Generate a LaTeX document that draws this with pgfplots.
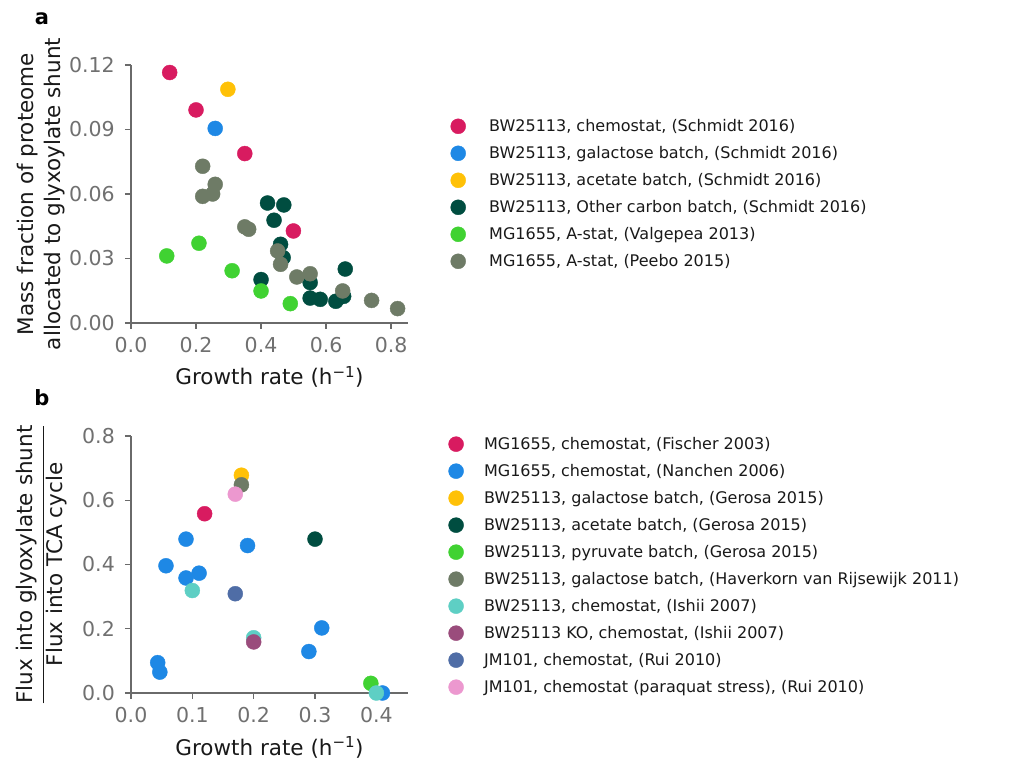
\documentclass[border=0pt]{standalone}
\usepackage{fontspec}
\setmainfont{DejaVu Sans}
\usepackage{pgfplots}
\pgfplotsset{compat=1.18}
\definecolor{cpink}{HTML}{D81B60}
\definecolor{cblue}{HTML}{1E88E5}
\definecolor{cyellow}{HTML}{FFC107}
\definecolor{cdgreen}{HTML}{004D40}
\definecolor{clgreen}{HTML}{40D232}
\definecolor{cgray}{HTML}{6E7B66}
\definecolor{cteal}{HTML}{5ECFC4}
\definecolor{cpurple}{HTML}{9A4C7C}
\definecolor{cslate}{HTML}{4F6DA6}
\definecolor{clpink}{HTML}{EC98CF}
\definecolor{axgray}{HTML}{6A6A6A}
\definecolor{tkgray}{HTML}{707070}
\pgfplotsset{
  dot/.style={only marks, mark=*, mark size=7.5pt, color=#1, mark options={draw=none, fill=#1}},
  panel/.style={
    scale only axis, width=277pt,
    axis x line*=bottom, axis y line*=left,
    axis line style={color=axgray, line width=1.2pt},
    tick align=outside, major tick length=6pt,
    tick style={color=axgray, line width=1.2pt},
    ticklabel style={font=\fontsize{20.5}{20.5}\selectfont, text=tkgray},
    xticklabel style={inner sep=8.5pt},
    yticklabel style={inner sep=10pt},
    /pgf/number format/assume math mode=true,
    xlabel style={font=\fontsize{21.5}{26}\selectfont, text=black!90, at={(axis description cs:0.5,0)}, anchor=base, yshift=-62pt},
    ylabel style={font=\fontsize{21.5}{27}\selectfont, text=black!90, align=center, anchor=center},
    legend cell align=left,
  },
}
\begin{document}
\begin{tikzpicture}
\path[use as bounding box] (0pt,0pt) rectangle (1035pt,762pt);
\node[font=\bfseries\fontsize{21}{21}\selectfont] at (42pt,743pt) {a};
\node[font=\bfseries\fontsize{21}{21}\selectfont] at (42pt,364pt) {b};
% ---------------- panel a
\begin{axis}[panel, at={(131pt,439pt)}, anchor=south west, height=258pt,
  xmin=0, xmax=0.852, ymin=0, ymax=0.12,
  xtick={0,0.2,0.4,0.6,0.8}, ytick={0,0.03,0.06,0.09,0.12},
  xticklabel style={/pgf/number format/.cd, fixed, fixed zerofill, precision=1},
  yticklabel style={/pgf/number format/.cd, fixed, fixed zerofill, precision=2},
  scaled y ticks=false,
  xlabel={Growth rate (h\textsuperscript{−1})},
  ylabel={Mass fraction of proteome\\allocated to glyxoylate shunt},
  ylabel style={at={(axis description cs:-0.323,0.5)}},
  legend style={draw=none, fill=none, at={(axis description cs:1.1426,0.80)}, anchor=north west,
    font=\fontsize{16}{16}\selectfont, text=black!90, row sep=12pt,
    nodes={inner sep=0pt}, column sep=23.5pt},
]
\addplot[dot=cpink] coordinates {(0.119,0.1165) (0.200,0.0991) (0.350,0.0788) (0.4995,0.0428)};
\addlegendentry{BW25113, chemostat, (Schmidt 2016)}
\addplot[dot=cblue] coordinates {(0.259,0.0905)};
\addlegendentry{BW25113, galactose batch, (Schmidt 2016)}
\addplot[dot=cyellow] coordinates {(0.298,0.1087)};
\addlegendentry{BW25113, acetate batch, (Schmidt 2016)}
\addplot[dot=cdgreen] coordinates {(0.420,0.0558) (0.470,0.0549) (0.440,0.0478) (0.460,0.0366) (0.468,0.0304) (0.400,0.0202) (0.551,0.0188) (0.551,0.0116) (0.582,0.0110) (0.630,0.0101) (0.654,0.0124) (0.659,0.0251)};
\addlegendentry{BW25113, Other carbon batch, (Schmidt 2016)}
\addplot[dot=clgreen] coordinates {(0.110,0.0312) (0.209,0.0371) (0.311,0.0243) (0.400,0.0149) (0.490,0.0090)};
\addlegendentry{MG1655, A-stat, (Valgepea 2013)}
\addplot[dot=cgray] coordinates {(0.2205,0.0729) (0.2205,0.0589) (0.251,0.0600) (0.259,0.0645) (0.350,0.0447) (0.362,0.0436) (0.451,0.0335) (0.460,0.0273) (0.510,0.0214) (0.551,0.0229) (0.651,0.0149) (0.740,0.0105) (0.820,0.0067)};
\addlegendentry{MG1655, A-stat, (Peebo 2015)}
\end{axis}
% ---------------- panel b
\begin{axis}[panel, at={(131pt,69pt)}, anchor=south west, height=257pt,
  xmin=0, xmax=0.4516, ymin=0, ymax=0.8,
  xtick={0,0.1,0.2,0.3,0.4}, ytick={0,0.2,0.4,0.6,0.8},
  xticklabel style={/pgf/number format/.cd, fixed, fixed zerofill, precision=1},
  yticklabel style={/pgf/number format/.cd, fixed, fixed zerofill, precision=1},
  xlabel={Growth rate (h\textsuperscript{−1})},
  ylabel={\begin{tabular}{@{}c@{}}Flux into glyoxylate shunt\\[2pt]\hline Flux into TCA cycle\end{tabular}},
  ylabel style={at={(axis description cs:-0.321,0.5)}},
  legend style={draw=none, fill=none, at={(axis description cs:1.135,1.006)}, anchor=north west,
    font=\fontsize{16}{16}\selectfont, text=black!90, row sep=12pt,
    nodes={inner sep=0pt}, column sep=20.5pt},
]
\addplot[dot=cpink] coordinates {(0.120,0.558)};
\addlegendentry{MG1655, chemostat, (Fischer 2003)}
\addplot[dot=cblue] coordinates {(0.0435,0.0945) (0.047,0.065) (0.057,0.396) (0.0897,0.479) (0.0897,0.358) (0.111,0.373) (0.190,0.459) (0.290,0.129) (0.311,0.2026) (0.410,0.0)};
\addlegendentry{MG1655, chemostat, (Nanchen 2006)}
\addplot[dot=cyellow] coordinates {(0.180,0.678)};
\addlegendentry{BW25113, galactose batch, (Gerosa 2015)}
\addplot[dot=cdgreen] coordinates {(0.300,0.479)};
\addlegendentry{BW25113, acetate batch, (Gerosa 2015)}
\addplot[dot=clgreen] coordinates {(0.391,0.030)};
\addlegendentry{BW25113, pyruvate batch, (Gerosa 2015)}
\addplot[dot=cgray] coordinates {(0.180,0.648)};
\addlegendentry{BW25113, galactose batch, (Haverkorn van Rijsewijk 2011)}
\addplot[dot=cteal] coordinates {(0.100,0.319) (0.200,0.172) (0.400,0.0)};
\addlegendentry{BW25113, chemostat, (Ishii 2007)}
\addplot[dot=cpurple] coordinates {(0.200,0.159)};
\addlegendentry{BW25113 KO, chemostat, (Ishii 2007)}
\addplot[dot=cslate] coordinates {(0.170,0.309)};
\addlegendentry{JM101, chemostat, (Rui 2010)}
\addplot[dot=clpink] coordinates {(0.170,0.619)};
\addlegendentry{JM101, chemostat (paraquat stress), (Rui 2010)}
\end{axis}
\end{tikzpicture}
\end{document}
